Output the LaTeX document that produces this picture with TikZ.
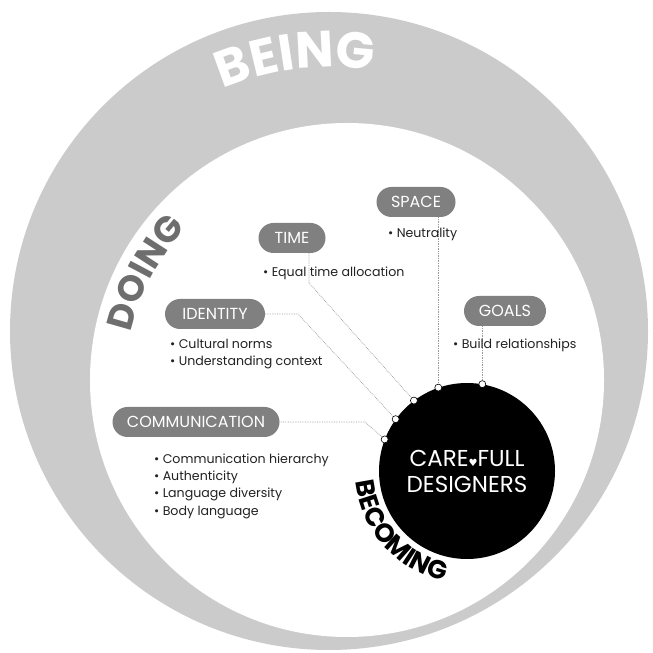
\documentclass[tikz,border=0pt]{standalone}
\usepackage{fontspec}
\setmainfont{Poppins}
\newfontfamily\symfont{DejaVu Sans}
\usetikzlibrary{decorations.text}
\definecolor{bandgray}{HTML}{CBCBCB}
\definecolor{pillgray}{HTML}{808080}
\definecolor{doinggray}{HTML}{6E6E6E}
\definecolor{txtdark}{HTML}{222222}
\definecolor{linegray}{HTML}{9A9A9A}
\begin{document}
\begin{tikzpicture}[x=1pt,y=1pt,
 pill/.style={fill=pillgray, text=white, rounded corners=15pt, minimum height=30pt, inner sep=0pt, font=\fontsize{16}{16}\selectfont},
 blist/.style={text=txtdark, align=left, anchor=west, inner sep=0pt, font=\fontsize{12.6}{17.3}\selectfont},
 conn/.style={linegray, densely dotted, line width=0.7pt},
 dotmark/.style={circle, fill=white, draw=black, line width=0.6pt, inner sep=0pt, minimum size=7pt}]
\useasboundingbox (0,0) rectangle (653,653);
\fill[bandgray] (329,322) circle[radius=319pt];
\fill[white] (347,273) circle[radius=257pt];
% curved labels
\path[decorate, decoration={text along path, text align=center,
  text={|\fontsize{51}{51}\selectfont\bfseries\color{white}|BEING}}]
  (329,322) ++(157:264pt) arc[start angle=157, end angle=37, radius=264pt];
\path[decorate, decoration={text along path, text align=center,
  text={|\fontsize{36}{36}\selectfont\bfseries\color{doinggray}|DOING}}]
  (347,273) ++(200:221pt) arc[start angle=200, end angle=104, radius=221pt];
\path[decorate, decoration={text along path, text align=center,
  text={|\fontsize{26}{26}\selectfont\bfseries\color{black}|BECOMING}}]
  (467,182) ++(162:112pt) arc[start angle=162, end angle=282, radius=112pt];
% core
\node[circle, fill=black, minimum size=176pt, inner sep=0pt, text=white, align=center,
  font=\fontsize{23}{26}\selectfont] (core) at (467,182)
  {CARE{\symfont\fontsize{10}{10}\selectfont ♥}FULL\\DESIGNERS};
\coordinate (aspace) at (core.109);
\coordinate (agoals) at (core.80.3);
\coordinate (atime) at (core.127.6);
\coordinate (aident) at (core.144.5);
\coordinate (acomm) at (core.159.7);
% pills
\node[pill, minimum width=79pt] (space) at (416,451) {SPACE};
\node[pill, minimum width=82pt] (goals) at (505,342) {GOALS};
\node[pill, minimum width=67pt] (time) at (292,415) {TIME};
\node[pill, minimum width=100pt] (identity) at (215,339) {IDENTITY};
\node[pill, minimum width=167pt] (comm) at (196,231) {COMMUNICATION};
% connectors
\coordinate (tbend) at (309,370);
\coordinate (ibend) at (298,339);
\coordinate (cbend) at (365,231);
\draw[conn] (aspace |- space.south) -- (aspace);
\draw[conn] (agoals |- goals.south) -- (agoals);
\draw[conn] (tbend |- time.south) -- (tbend) -- (atime);
\draw[conn] (identity.east) -- (ibend) -- (aident);
\draw[conn] (comm.east) -- (cbend) -- (acomm);
% lists
\node[blist] (lspace) at (388,419) {• Neutrality};
\node[blist] (lgoals) at (453,308) {• Build relationships};
\node[blist] (ltime) at (263,380) {• Equal time allocation};
\node[blist] (lident) at (170,299) {• Cultural norms\\• Understanding context};
\node[blist] (lcomm) at (154,167) {• Communication hierarchy\\• Authenticity\\• Language diversity\\• Body language};
% dots
\foreach \a/\n in {aspace/dspace, agoals/dgoals, atime/dtime, aident/dident, acomm/dcomm}
  \node[dotmark] (\n) at (\a) {};
\end{tikzpicture}
\end{document}
